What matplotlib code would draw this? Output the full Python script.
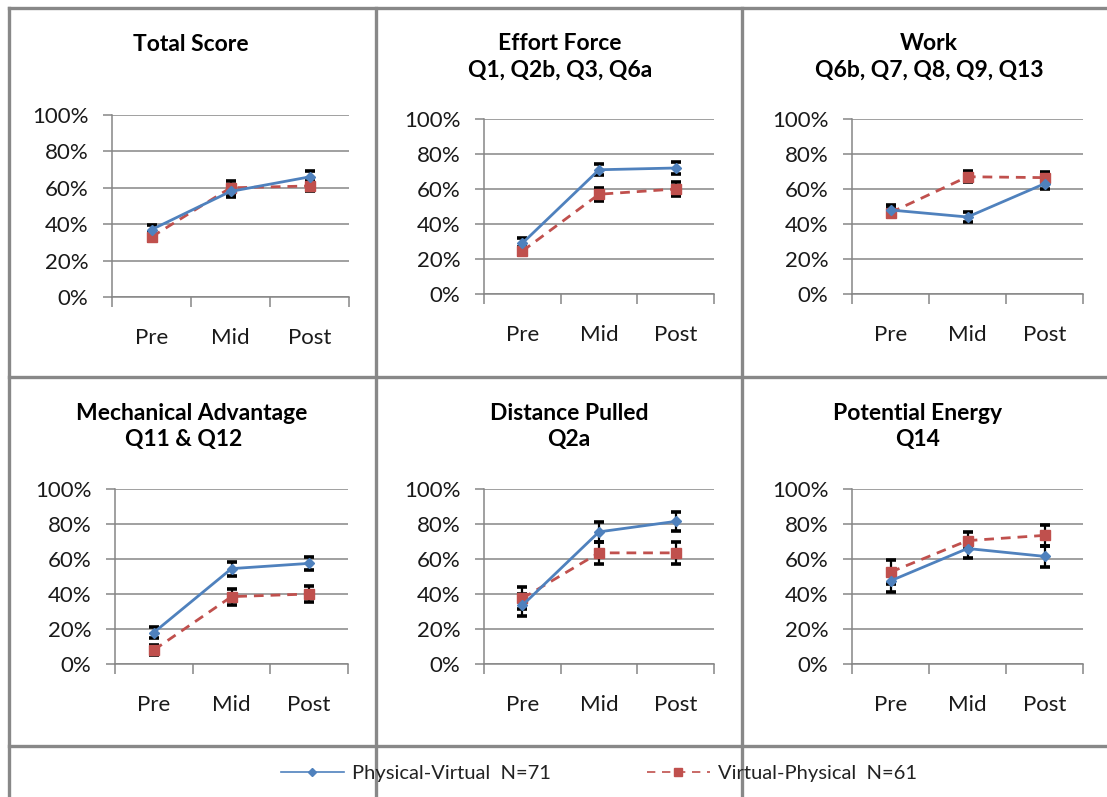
import matplotlib
matplotlib.use("Agg")
import matplotlib.pyplot as plt
from matplotlib.lines import Line2D
from matplotlib.ticker import FuncFormatter, FixedLocator

plt.rcParams['font.family'] = ['Lato', 'DejaVu Sans']

categories = ["Pre", "Mid", "Post"]

titles = [
    "Total Score",
    "Effort Force\nQ1, Q2b, Q3, Q6a",
    "Work\nQ6b, Q7, Q8, Q9, Q13",
    "Mechanical Advantage\nQ11 & Q12   ",
    "Distance Pulled\nQ2a",
    "Potential Energy\nQ14",
]

# Physical-Virtual (N=71) means and error (in %)
pv_total = [37, 58, 66]
pv_effort = [29, 71, 72]
pv_work = [48, 44, 63]
pv_mech = [18, 54.5, 57.5]
pv_dist = [33.5, 75.5, 81.5]
pv_energy = [47.5, 66, 61.5]

pv_total_err = [2.5, 3, 3]
pv_effort_err = [3, 3, 3.4]
pv_work_err = [3, 3, 3]
pv_mech_err = [3.4, 4, 3.5]
pv_dist_err = [6.3, 5.6, 5.6]
pv_energy_err = [6.3, 5.5, 5.8]

# Virtual-Physical (N=61)
vp_total = [33, 60, 61]
vp_effort = [24.5, 57, 60]
vp_work = [46.5, 67, 66.5]
vp_mech = [8, 38.5, 40]
vp_dist = [37.5, 63.5, 63.5]
vp_energy = [52.5, 70.5, 73.5]

vp_total_err = [2.5, 3.5, 3]
vp_effort_err = [2.5, 3.8, 3.9]
vp_work_err = [2.5, 3, 3.3]
vp_mech_err = [2.7, 4.6, 4.5]
vp_dist_err = [6.3, 6.5, 6.5]
vp_energy_err = [6.9, 5, 5.8]

yticks = [0, 20, 40, 60, 80, 100]

pv_series = [pv_total, pv_effort, pv_work, pv_mech, pv_dist, pv_energy]
pv_errs = [pv_total_err, pv_effort_err, pv_work_err, pv_mech_err, pv_dist_err, pv_energy_err]
vp_series = [vp_total, vp_effort, vp_work, vp_mech, vp_dist, vp_energy]
vp_errs = [vp_total_err, vp_effort_err, vp_work_err, vp_mech_err, vp_dist_err, vp_energy_err]

W, H = 1107, 797
fig = plt.figure(figsize=(W / 100, H / 100), dpi=100)

def fx(x):
    return x / W

def fy(y):
    return 1 - y / H

# axes pixel boxes: left, right, top(100%), bottom(0%)
boxes = [
    (112, 349, 115, 297),
    (484, 714, 119, 294),
    (852, 1083, 119, 294),
    (115, 348, 489, 664),
    (484, 714, 489, 664),
    (852, 1083, 489, 664),
]
title_pos = [(191, 34), (560, 33), (929, 33), (192, 403), (569, 403), (918, 403)]

BLUE = "#4F81BD"
RED = "#C0504D"
GRID = "#868686"

for i, (l, r, t, b) in enumerate(boxes):
    ax = fig.add_axes([fx(l), fy(b), (r - l) / W, (b - t) / H])
    xs = [k + 0.5 for k in range(len(categories))]
    ax.set_xlim(0, len(categories))
    ax.set_ylim(0, 100)
    ax.set_yticks(yticks)
    ax.yaxis.set_major_formatter(FuncFormatter(lambda v, p: f"{int(v)}%"))
    ax.grid(axis="y", color=GRID, lw=1.1)
    ax.set_axisbelow(True)
    for s in ["top", "right"]:
        ax.spines[s].set_visible(False)
    for s in ["left", "bottom"]:
        ax.spines[s].set_color(GRID)
        ax.spines[s].set_linewidth(1.1)
    ax.xaxis.set_major_locator(FixedLocator(range(len(categories) + 1)))
    ax.xaxis.set_major_formatter(FuncFormatter(lambda v, p: ""))
    ax.xaxis.set_minor_locator(FixedLocator(xs))
    ax.set_xticklabels(categories, minor=True)
    ax.tick_params(axis="x", which="major", length=7, color=GRID, width=1.1, direction="out")
    ax.tick_params(axis="x", which="minor", length=0, pad=22, labelsize=16, labelcolor="#1a1a1a")
    ax.tick_params(axis="y", length=6.5, color=GRID, width=1.1, pad=10.5, labelsize=16, labelcolor="#1a1a1a")

    ax.errorbar(xs, vp_series[i], yerr=vp_errs[i], fmt="none", ecolor="black",
                elinewidth=1.6, capsize=3.8, capthick=2.6, zorder=3)
    ax.errorbar(xs, pv_series[i], yerr=pv_errs[i], fmt="none", ecolor="black",
                elinewidth=1.6, capsize=3.8, capthick=2.6, zorder=3)
    ax.plot(xs, vp_series[i], color=RED, lw=2.0, ls=(0, (3.5, 2.5)), marker="s",
            markersize=7.5, zorder=4, clip_on=False)
    ax.plot(xs, pv_series[i], color=BLUE, lw=2.0, marker="D", markersize=5,
            zorder=5, clip_on=False)

    tx, ty = title_pos[i]
    fig.text(fx(tx), fy(ty), titles[i], ha="center", va="top", fontsize=16.5,
             fontweight="bold", linespacing=1.32, color="black",
             transform=fig.transFigure)

# panel borders
BORDER = "#888888"
lw_b = 2.4
for x in [9, 376, 742]:
    fig.add_artist(Line2D([fx(x), fx(x)], [fy(8), 0], color=BORDER, lw=lw_b))
for y in [8, 377, 746]:
    fig.add_artist(Line2D([fx(9), 1], [fy(y), fy(y)], color=BORDER, lw=lw_b))

# legend
handles = [
    Line2D([], [], color=BLUE, lw=1.2, marker="D", markersize=4),
    Line2D([], [], color=RED, lw=1.2, ls=(0, (5, 4)), marker="s", markersize=6),
]
labels = ["Physical-Virtual  N=71", "Virtual-Physical  N=61"]
fig.legend(handles, labels, loc="center", bbox_to_anchor=(fx(599), fy(773)),
           ncol=2, frameon=False, fontsize=14.5, handlelength=3.1,
           columnspacing=4.8, handletextpad=0.4, labelcolor="#222222")

fig.savefig("out.png", dpi=100)
